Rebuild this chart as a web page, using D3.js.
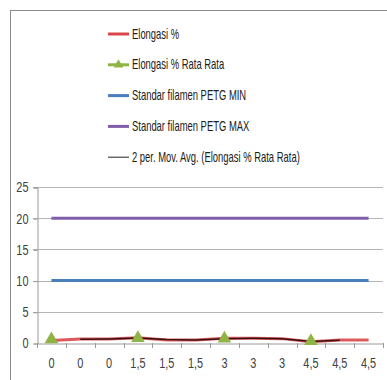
<!DOCTYPE html>
<html>
<head>
<meta charset="utf-8">
<script src="https://cdn.jsdelivr.net/npm/d3@7"></script>
<style>
  body { margin: 0; background: #fff; }
  text { font-family: "Liberation Sans", Arial, sans-serif; }
</style>
</head>
<body>
<div id="chart"></div>
<script>
// category labels on the x axis
var categories = ['0', '0', '0', '1,5', '1,5', '1,5', '3', '3', '3', '4,5', '4,5', '4,5'];
// series
var elongasi = [0.4, 0.65, 0.65, 0.85, 0.5, 0.5, 0.75, 0.75, 0.7, 0.2, 0.5, 0.5];
var elongasiRata = [0.6, null, null, 0.8, null, null, 0.7, null, null, 0.3, null, null];
var movAvg = [null, 0.6, 0.65, 0.8, 0.55, 0.5, 0.7, 0.75, 0.7, 0.25, 0.45, null];
var petgMin = [10, 10, 10, 10, 10, 10, 10, 10, 10, 10, 10, 10];
var petgMax = [20, 20, 20, 20, 20, 20, 20, 20, 20, 20, 20, 20];
var yTicks = [0, 5, 10, 15, 20, 25];

var legendNames = ['Elongasi %', 'Elongasi % Rata Rata', 'Standar filamen PETG MIN',
                   'Standar filamen PETG MAX', '2 per. Mov. Avg. (Elongasi % Rata Rata)'];

var width = 387, height = 380;
var plotLeft = 37, plotRight = 383, plotTop = 187, plotBottom = 343;
var narrow = 0.78; // the original uses a condensed font

var svg = d3.select('#chart').append('svg')
    .attr('width', width).attr('height', height);

// outer chart frame
svg.append('rect')
    .attr('x', 10.5).attr('y', 10.5)
    .attr('width', 400).attr('height', 400)
    .attr('fill', 'none').attr('stroke', '#8c8c8c').attr('stroke-width', 1);

var x = d3.scaleBand().domain(d3.range(categories.length)).range([plotLeft, plotRight]);
var y = d3.scaleLinear().domain([0, 25]).range([plotBottom, plotTop]);

// grid lines
svg.append('g')
    .selectAll('line')
    .data(yTicks.slice(1))
    .enter().append('line')
    .attr('x1', plotLeft - 4).attr('x2', plotRight)
    .attr('y1', function(d) { return Math.round(y(d)) + 0.5; })
    .attr('y2', function(d) { return Math.round(y(d)) + 0.5; })
    .attr('stroke', '#b5b5b5');

// y axis
var yAxis = svg.append('g')
    .attr('transform', 'translate(' + (plotLeft + 0.5) + ',0.5)')
    .call(d3.axisLeft(y).tickValues(yTicks).tickSize(4).tickPadding(0));
yAxis.select('.domain').attr('stroke', '#9a9a9a');
yAxis.selectAll('.tick line').attr('stroke', '#9a9a9a');
yAxis.selectAll('.tick text').attr('font-size', 14).attr('fill', '#404040')
    .attr('x', null)
    .attr('transform', 'translate(-9,0) scale(' + narrow + ',1)')
    .style('font-family', '"Liberation Sans", Arial, sans-serif');

// x axis
var xAxis = svg.append('g')
    .attr('transform', 'translate(0,' + (plotBottom + 0.5) + ')')
    .call(d3.axisBottom(x).tickSize(0).tickPadding(15).tickFormat(function(i) { return categories[i]; }));
xAxis.select('.domain').attr('stroke', '#9a9a9a');
xAxis.selectAll('.tick text').attr('font-size', 14).attr('fill', '#404040')
    .attr('transform', 'scale(' + narrow + ',1)')
    .style('font-family', '"Liberation Sans", Arial, sans-serif');
// tick marks between categories
svg.append('g')
    .selectAll('line')
    .data(d3.range(categories.length + 1))
    .enter().append('line')
    .attr('x1', function(i) { return Math.round(plotLeft + i * x.step()) + 0.5; })
    .attr('x2', function(i) { return Math.round(plotLeft + i * x.step()) + 0.5; })
    .attr('y1', plotBottom).attr('y2', plotBottom + 5)
    .attr('stroke', '#9a9a9a');

var cx = function(i) { return x(i) + x.bandwidth() / 2; };
var line = d3.line()
    .defined(function(d) { return d != null; })
    .x(function(d, i) { return cx(i); })
    .y(function(d) { return y(d); });

svg.append('path').datum(petgMax).attr('d', line)
    .attr('fill', 'none').attr('stroke', '#7f5fa8').attr('stroke-width', 3);
svg.append('path').datum(petgMin).attr('d', line)
    .attr('fill', 'none').attr('stroke', '#4a7ebb').attr('stroke-width', 3);
svg.append('path').datum(elongasi).attr('d', line)
    .attr('fill', 'none').attr('stroke', '#d9474a').attr('stroke-width', 3).attr('stroke-opacity', 0.9);
svg.append('path').datum(movAvg).attr('d', line)
    .attr('fill', 'none').attr('stroke', '#3a1010').attr('stroke-width', 1.5);

var tri = d3.symbol().type(d3.symbolTriangle).size(80);
svg.append('g')
    .selectAll('path')
    .data(elongasiRata.map(function(v, i) { return { v: v, i: i }; }).filter(function(d) { return d.v != null; }))
    .enter().append('path')
    .attr('d', tri)
    .attr('transform', function(d) { return 'translate(' + cx(d.i) + ',' + y(d.v) + ')'; })
    .attr('fill', '#8fb443');

// legend
var legendColors = ['#d9474a', '#8fb443', '#4a7ebb', '#7f5fa8', '#222'];
var legendWidths = [3, 3, 3, 3, 1];
var lg = svg.append('g').selectAll('g')
    .data(legendNames)
    .enter().append('g')
    .attr('transform', function(d, i) { return 'translate(108,' + (34 + i * 30.8) + ')'; });
lg.append('line')
    .attr('x1', 0).attr('x2', 21).attr('y1', 0).attr('y2', 0)
    .attr('stroke', function(d, i) { return legendColors[i]; })
    .attr('stroke-width', function(d, i) { return legendWidths[i]; });
lg.filter(function(d, i) { return i === 1; })
    .append('path')
    .attr('d', d3.symbol().type(d3.symbolTriangle).size(40))
    .attr('transform', 'translate(10.5,0)')
    .attr('fill', '#8fb443');
var lt = lg.append('text')
    .attr('y', 4.5)
    .attr('font-size', 14).attr('fill', '#202020')
    .text(function(d) { return d; });
// squeeze the legend texts so the longest one is as wide as in the original
var longest = d3.max(lt.nodes(), function(n) { return n.getComputedTextLength(); });
var sx = 168 / longest;
lt.attr('transform', 'translate(24,0) scale(' + sx + ',1)');
</script>
</body>
</html>
